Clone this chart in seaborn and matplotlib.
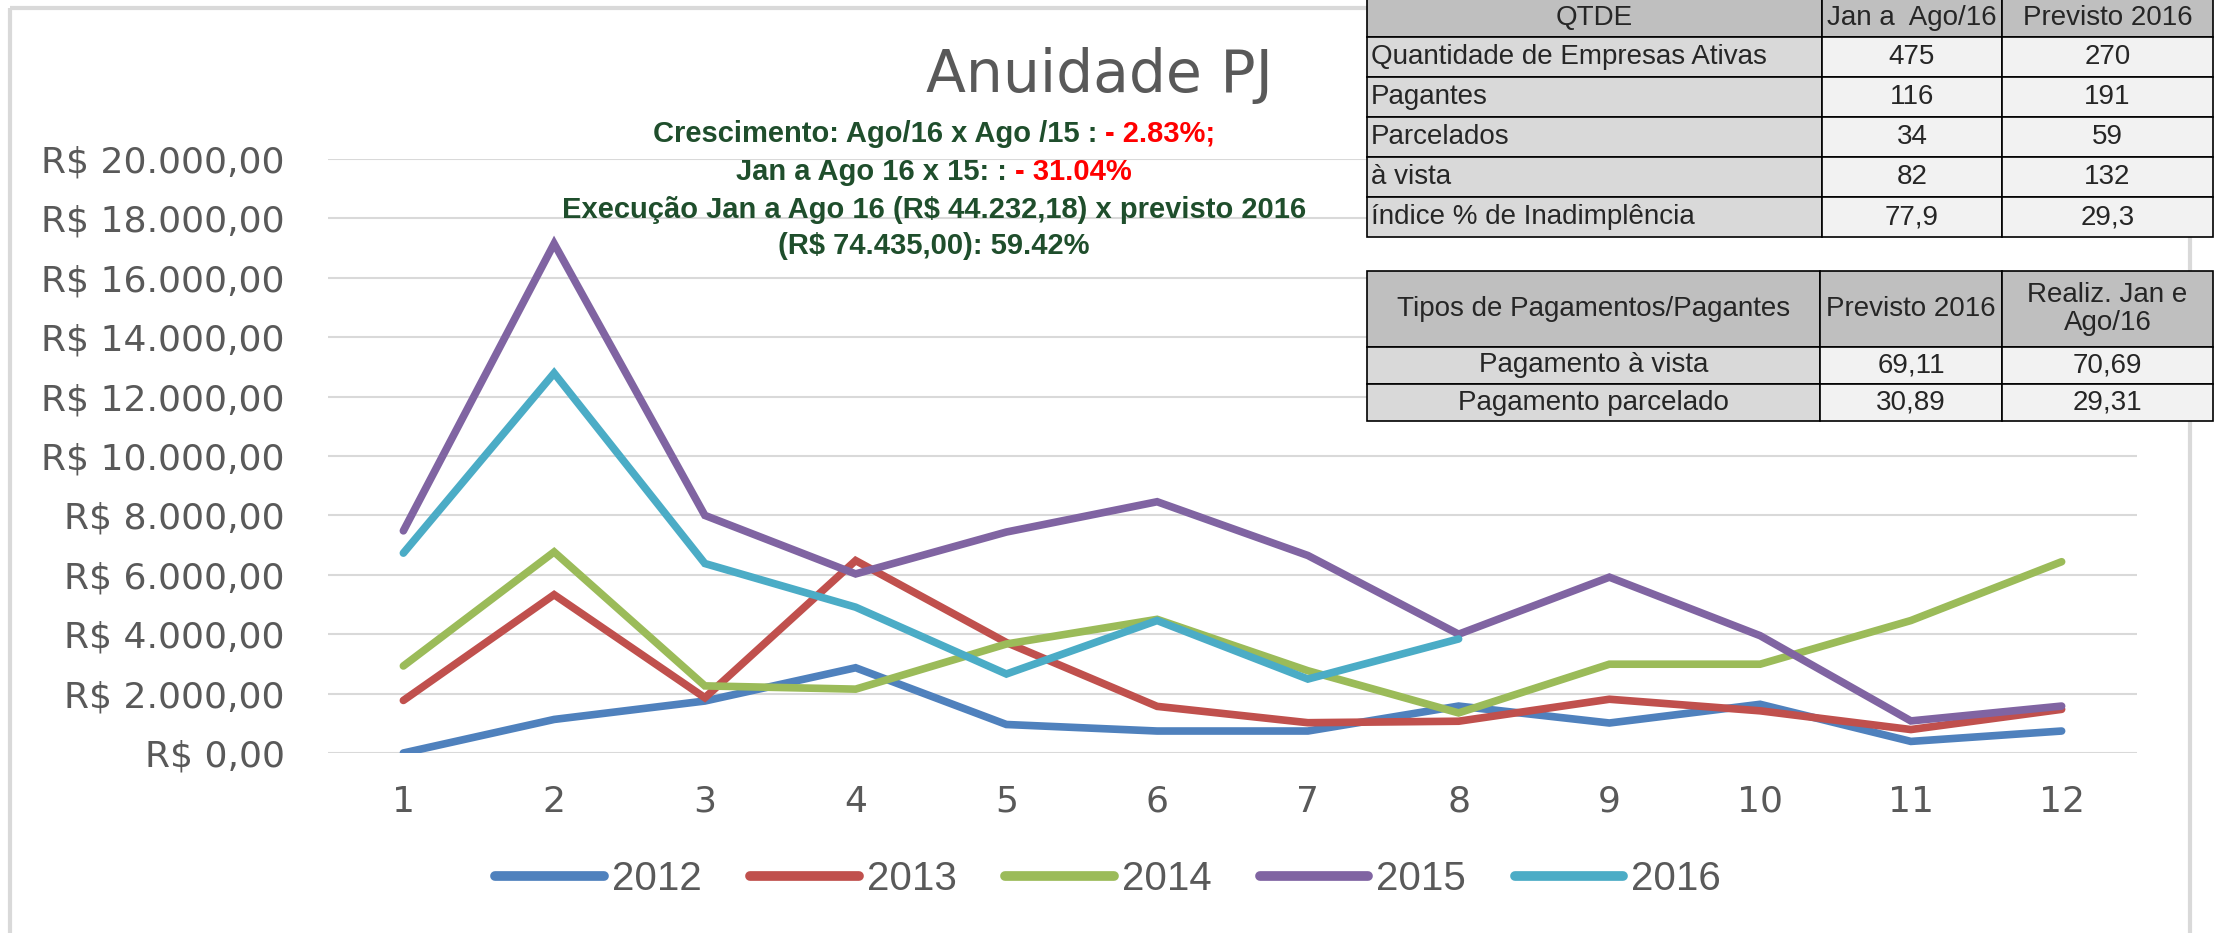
import numpy as np
import matplotlib.pyplot as plt
import pandas as pd
import seaborn as sns
from matplotlib.patches import Rectangle
from matplotlib import font_manager

# DADOS
meses = list(range(1, 13))
anos = ['2012', '2013', '2014', '2015', '2016']
v2012 = [0, 1130, 1750, 2870, 960, 740, 740, 1580, 1010, 1640, 390, 740]
v2013 = [1770, 5330, 1860, 6480, 3720, 1570, 1020, 1070, 1810, 1420, 790, 1470]
v2014 = [2930, 6770, 2260, 2150, 3670, 4500, 2770, 1350, 2990, 2990, 4460, 6440]
v2015 = [7480, 17150, 8000, 6030, 7440, 8460, 6650, 4000, 5920, 3950, 1080, 1580]
v2016 = [6730, 12790, 6380, 4910, 2660, 4460, 2490, 3840]
cores = ['#4f81bd', '#c0504d', '#9bbb59', '#8064a2', '#4bacc6']
yticks = list(range(0, 20001, 2000))

tab1_header = ['QTDE', 'Jan a  Ago/16', 'Previsto 2016']
tab1_rows = ['Quantidade de Empresas Ativas', 'Pagantes', 'Parcelados', 'à vista',
             'índice % de Inadimplência']
tab1_jan_ago = ['475', '116', '34', '82', '77,9']
tab1_previsto = ['270', '191', '59', '132', '29,3']

tab2_header = ['Tipos de Pagamentos/Pagantes', 'Previsto 2016', 'Realiz. Jan e\nAgo/16']
tab2_rows = ['Pagamento à vista', 'Pagamento parcelado']
tab2_previsto = ['69,11', '30,89']
tab2_realiz = ['70,69', '29,31']

verde = '#1f4e2c'
vermelho = '#ff0000'
notas = [
    [('Crescimento: Ago/16 x Ago /15 : ', verde), ('- 2.83%;', vermelho)],
    [('Jan a Ago 16 x 15: : ', verde), ('- 31.04%', vermelho)],
    [('Execução Jan a Ago 16 (R$ 44.232,18) x previsto 2016', verde)],
    [('(R$ 74.435,00): 59.42%', verde)],
]

# long-form data frame for seaborn
series = [v2012, v2013, v2014, v2015, v2016]
linhas = []
for ano, vals in zip(anos, series):
    for m, v in zip(meses, vals):
        linhas.append({'mes': m, 'valor': v, 'ano': ano})
df = pd.DataFrame(linhas)

sns.set_style('white')
nomes = {f.name for f in font_manager.fontManager.ttflist}
estreita = 'Liberation Sans Narrow' if 'Liberation Sans Narrow' in nomes else 'Liberation Sans'
plt.rcParams['font.family'] = ['DejaVu Sans']

W, H = 2215, 933
fig = plt.figure(figsize=(W / 100, H / 100), dpi=100)
fig.patch.set_facecolor('white')

# main chart, placed in pixel coordinates
left, right, top, bottom = 328, 2137, 159, 753
ax = fig.add_axes([left / W, (H - bottom) / H, (right - left) / W, (bottom - top) / H])
sns.lineplot(data=df, x='mes', y='valor', hue='ano', palette=cores, linewidth=5.5,
             ax=ax, legend=False, solid_capstyle='round', solid_joinstyle='miter')
ax.set_xlim(0.5, 12.5)
ax.set_ylim(0, 20000)
ax.set_yticks(yticks)
ax.set_yticklabels(['R$ ' + f'{v:,.2f}'.replace(',', 'X').replace('.', ',').replace('X', '.')
                    for v in yticks])
ax.set_xticks(meses)
ax.set_xlabel('')
ax.set_ylabel('')
ax.grid(axis='y', color='#d9d9d9', linewidth=1.5)
ax.set_axisbelow(True)
for s in ax.spines.values():
    s.set_visible(False)
ax.tick_params(axis='y', length=0, pad=31, labelsize=26, labelcolor='#595959')
ax.tick_params(axis='x', length=0, pad=23, labelsize=26, labelcolor='#595959')

# legend
handles = ax.get_lines()[:5]
leg = fig.legend(handles, anos, loc='center', bbox_to_anchor=(1108 / W, 1 - 879 / H),
                 ncol=5, frameon=False, handlelength=2.7, handletextpad=0.2,
                 columnspacing=1.2, prop={'family': estreita, 'size': 29})
for t in leg.get_texts():
    t.set_color('#595959')
for h in leg.legend_handles:
    h.set_linewidth(7)

# overlay in pixel coordinates for frame, title, notes and tables
ov = fig.add_axes([0, 0, 1, 1], zorder=5)
ov.set_xlim(0, W)
ov.set_ylim(H, 0)
ov.axis('off')
ov.patch.set_visible(False)

ov.add_patch(Rectangle((10, 8), 2180, 1000, facecolor='none', edgecolor='#d9d9d9', lw=3))

ov.text(1099, 92, 'Anuidade PJ', ha='center', va='baseline', fontsize=42, color='#595959')

# notes with coloured parts, centred on x=934
fig.canvas.draw()
renderer = fig.canvas.get_renderer()
baselines = [142, 180, 218, 254]
for partes, yb in zip(notas, baselines):
    txts = []
    for texto, cor in partes:
        t = ov.text(0, yb, texto, ha='left', va='baseline', fontsize=21, color=cor,
                    fontweight='bold', family=estreita)
        txts.append(t)
    larguras = [t.get_window_extent(renderer).width for t in txts]
    x = 934 - sum(larguras) / 2
    for t, w in zip(txts, larguras):
        t.set_x(x)
        x += w

# tables
cab = '#bfbfbf'
col1 = '#d9d9d9'
cel = '#f2f2f2'
fs_tab = 20


def celula(x0, x1, y0, y1, cor, texto, ha='center'):
    ov.add_patch(Rectangle((x0, y0), x1 - x0, y1 - y0, facecolor=cor, edgecolor='black',
                           lw=1.2, zorder=6))
    if ha == 'left':
        ov.text(x0 + 4, (y0 + y1) / 2, texto, ha='left', va='center', fontsize=fs_tab,
                family=estreita, zorder=7)
    else:
        ov.text((x0 + x1) / 2, (y0 + y1) / 2, texto, ha='center', va='center',
                fontsize=fs_tab, family=estreita, zorder=7, linespacing=1.05)


xs1 = [1367, 1822, 2002, 2213]
ys1 = [-1, 37, 77, 117, 157, 197, 237]
for j, h in enumerate(tab1_header):
    celula(xs1[j], xs1[j + 1], ys1[0], ys1[1], cab, h)
for i, nome in enumerate(tab1_rows):
    celula(xs1[0], xs1[1], ys1[i + 1], ys1[i + 2], col1, nome, ha='left')
    celula(xs1[1], xs1[2], ys1[i + 1], ys1[i + 2], cel, tab1_jan_ago[i])
    celula(xs1[2], xs1[3], ys1[i + 1], ys1[i + 2], cel, tab1_previsto[i])

xs2 = [1367, 1820, 2002, 2213]
ys2 = [271, 347, 384, 421]
for j, h in enumerate(tab2_header):
    celula(xs2[j], xs2[j + 1], ys2[0], ys2[1], cab, h)
for i, nome in enumerate(tab2_rows):
    celula(xs2[0], xs2[1], ys2[i + 1], ys2[i + 2], col1, nome)
    celula(xs2[1], xs2[2], ys2[i + 1], ys2[i + 2], cel, tab2_previsto[i])
    celula(xs2[2], xs2[3], ys2[i + 1], ys2[i + 2], cel, tab2_realiz[i])

fig.savefig('out.png', dpi=100)
